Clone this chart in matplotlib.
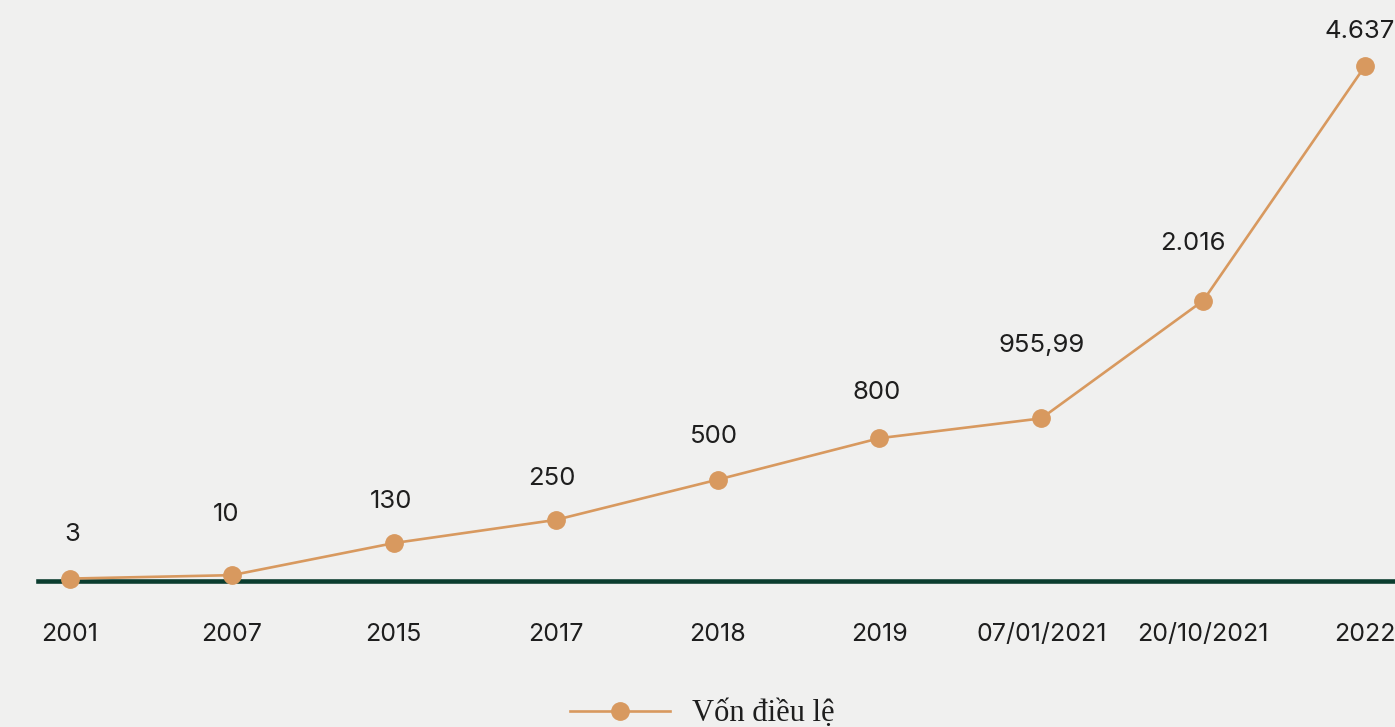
#importing libary functions
import numpy as np
import matplotlib
matplotlib.use('Agg')
import matplotlib.pyplot as plt

#data
dates = ['2001', '2007', '2015', '2017', '2018', '2019', '07/01/2021', '20/10/2021', '2022']
von_dieu_le = [3, 10, 130, 250, 500, 800, 955.99, 2016, 4637]
value_labels = ['3', '10', '130', '250', '500', '800', '955,99', '2.016', '4.637']
series_name = 'Vốn điều lệ'

line_color = '#d8995f'
base_color = '#0b3d2f'
bg_color = '#f0f0ef'
text_color = '#1e1e1e'

#the original chart squeezes big values, so use a power scale
p = 0.73
def forward(v):
    v = np.asarray(v, dtype=float)
    return np.sign(v) * np.abs(v) ** p
def inverse(t):
    t = np.asarray(t, dtype=float)
    return np.sign(t) * np.abs(t) ** (1 / p)

fig = plt.figure(figsize=(13.95, 7.27), dpi=100)
fig.patch.set_facecolor(bg_color)
ax = fig.add_axes([38 / 1395, 1 - 581 / 727, 1 - 38 / 1395, (581 - 40) / 727])
ax.set_facecolor(bg_color)

x = np.arange(len(dates))
ax.plot(x, von_dieu_le, color=line_color, lw=1.9, marker='o', ms=12.5,
        mfc=line_color, mec=line_color, label=series_name, clip_on=False, zorder=4)

ax.set_yscale('function', functions=(forward, inverse))
ax.set_ylim(0, inverse(forward(4637) * 541 / 515))
ax.set_xlim(-0.198, 8.185)

#value labels over the points (small nudges like the original)
nudge_y = [44, 61, 42, 41, 43, 46, 73, 57, 34]
nudge_x = [2, -6, -3, -4, -4, -3, 0, -10, -5]
for i in range(len(dates)):
    ax.annotate(value_labels[i], (x[i], von_dieu_le[i]),
                xytext=(nudge_x[i] * 0.72, nudge_y[i] * 0.72), textcoords='offset points',
                ha='center', va='center', fontsize=18.5, family='Inter', color=text_color,
                annotation_clip=False)

#axis styling
for s in ['top', 'right', 'left']:
    ax.spines[s].set_visible(False)
ax.spines['bottom'].set_color(base_color)
ax.spines['bottom'].set_linewidth(3.3)
ax.spines['bottom'].set_zorder(3)
ax.set_yticks([])
ax.set_xticks(x)
ax.set_xticklabels(dates, fontsize=18, family='Inter', color=text_color)
ax.tick_params(axis='x', length=0, pad=30)

leg = fig.legend(loc='center', bbox_to_anchor=(702 / 1395, 1 - 714 / 727), frameon=False,
                 handlelength=3.3, handletextpad=0.7,
                 prop={'family': 'Liberation Serif', 'size': 22})
for t in leg.get_texts():
    t.set_color(text_color)

fig.savefig('out.png', dpi=100, facecolor=bg_color)
